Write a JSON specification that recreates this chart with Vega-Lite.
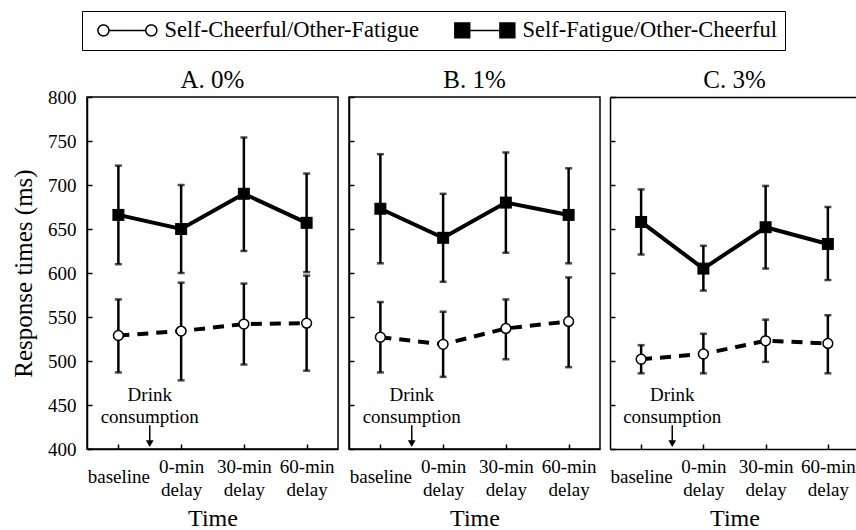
{
  "$schema": "https://vega.github.io/schema/vega-lite/v6.json",
  "padding": {"left": 10, "top": 10, "right": 0, "bottom": 0},
  "datasets": {
    "main": [
      {"panel": "A", "series": "Self-Fatigue/Other-Cheerful", "time": 0, "mean": 666, "lo": 610, "hi": 722},
      {"panel": "A", "series": "Self-Fatigue/Other-Cheerful", "time": 1, "mean": 650, "lo": 600, "hi": 700},
      {"panel": "A", "series": "Self-Fatigue/Other-Cheerful", "time": 2, "mean": 690, "lo": 625, "hi": 754},
      {"panel": "A", "series": "Self-Fatigue/Other-Cheerful", "time": 3, "mean": 657, "lo": 601, "hi": 713},
      {"panel": "A", "series": "Self-Cheerful/Other-Fatigue", "time": 0, "mean": 529, "lo": 487, "hi": 570},
      {"panel": "A", "series": "Self-Cheerful/Other-Fatigue", "time": 1, "mean": 534, "lo": 478, "hi": 589},
      {"panel": "A", "series": "Self-Cheerful/Other-Fatigue", "time": 2, "mean": 542, "lo": 496, "hi": 588},
      {"panel": "A", "series": "Self-Cheerful/Other-Fatigue", "time": 3, "mean": 543, "lo": 489, "hi": 597},
      {"panel": "B", "series": "Self-Fatigue/Other-Cheerful", "time": 0, "mean": 673, "lo": 611, "hi": 735},
      {"panel": "B", "series": "Self-Fatigue/Other-Cheerful", "time": 1, "mean": 640, "lo": 590, "hi": 690},
      {"panel": "B", "series": "Self-Fatigue/Other-Cheerful", "time": 2, "mean": 680, "lo": 623, "hi": 737},
      {"panel": "B", "series": "Self-Fatigue/Other-Cheerful", "time": 3, "mean": 666, "lo": 611, "hi": 719},
      {"panel": "B", "series": "Self-Cheerful/Other-Fatigue", "time": 0, "mean": 527, "lo": 487, "hi": 567},
      {"panel": "B", "series": "Self-Cheerful/Other-Fatigue", "time": 1, "mean": 519, "lo": 482, "hi": 556},
      {"panel": "B", "series": "Self-Cheerful/Other-Fatigue", "time": 2, "mean": 537, "lo": 502, "hi": 570},
      {"panel": "B", "series": "Self-Cheerful/Other-Fatigue", "time": 3, "mean": 545, "lo": 493, "hi": 595},
      {"panel": "C", "series": "Self-Fatigue/Other-Cheerful", "time": 0, "mean": 658, "lo": 621, "hi": 695},
      {"panel": "C", "series": "Self-Fatigue/Other-Cheerful", "time": 1, "mean": 605, "lo": 580, "hi": 631},
      {"panel": "C", "series": "Self-Fatigue/Other-Cheerful", "time": 2, "mean": 652, "lo": 605, "hi": 699},
      {"panel": "C", "series": "Self-Fatigue/Other-Cheerful", "time": 3, "mean": 633, "lo": 592, "hi": 675},
      {"panel": "C", "series": "Self-Cheerful/Other-Fatigue", "time": 0, "mean": 502, "lo": 486, "hi": 518},
      {"panel": "C", "series": "Self-Cheerful/Other-Fatigue", "time": 1, "mean": 508, "lo": 486, "hi": 531},
      {"panel": "C", "series": "Self-Cheerful/Other-Fatigue", "time": 2, "mean": 523, "lo": 499, "hi": 547},
      {"panel": "C", "series": "Self-Cheerful/Other-Fatigue", "time": 3, "mean": 520, "lo": 486, "hi": 552}
    ]
  },
  "data": {"name": "main"},
  "spacing": 8,
  "hconcat": [
    {
      "title": {"text": "A. 0%", "offset": -5},
      "width": 251,
      "height": 352,
      "transform": [{"filter": "datum.panel == 'A'"}],
      "layer": [
        {
          "transform": [{"filter": "datum.time == 0"}],
          "mark": {"type": "point", "size": 1, "filled": true, "stroke": "black", "strokeWidth": 1.5, "opacity": 1},
          "encoding": {
            "x": {"field": "time", "type": "quantitative", "scale": {"domain": [-0.5, 3.5], "nice": false, "zero": false}, "axis": {"title": "Time", "values": [0, 1, 2, 3], "labelExpr": "datum.value == 0 ? 'baseline' : datum.value == 1 ? ['0-min', 'delay'] : datum.value == 2 ? ['30-min', 'delay'] : ['60-min', 'delay']"}},
            "y": {"field": "mean", "type": "quantitative", "scale": {"domain": [400, 800], "nice": false, "zero": false}, "axis": {"title": "Response times (ms)", "values": [400, 450, 500, 550, 600, 650, 700, 750, 800], "titleFontSize": 25, "titlePadding": 11}},
            "shape": {"field": "series", "type": "nominal",
              "scale": {"domain": ["Self-Cheerful/Other-Fatigue", "Self-Fatigue/Other-Cheerful"],
                        "range": ["M-0.6,0A1,1,0,1,0,1.4,0A1,1,0,1,0,-0.6,0Z M1.4,0L8.1,0 M8.1,0A1,1,0,1,0,10.1,0A1,1,0,1,0,8.1,0Z",
                                  "M-0.8,-1.35H1.9V1.35H-0.8Z M1.9,0H7.4 M7.4,-1.35H10.1V1.35H7.4Z"]},
              "legend": {"title": null, "orient": "none", "legendX": -5, "legendY": -86, "direction": "horizontal", "symbolSize": 121, "symbolStrokeWidth": 1.5, "symbolStrokeColor": "black", "symbolOpacity": 1, "labelFont": "Liberation Serif", "labelFontSize": 22.5, "labelColor": "black", "labelOffset": 52, "columnPadding": 29, "strokeColor": "black", "padding": 8, "fillColor": "white", "labelLimit": 0,
                         "encoding": {"symbols": {"stroke": {"value": "black"}, "strokeWidth": {"value": 1.5}, "opacity": {"value": 1}, "strokeDash": {"value": [1, 0]}}}}},
            "fill": {"field": "series", "type": "nominal",
              "scale": {"domain": ["Self-Cheerful/Other-Fatigue", "Self-Fatigue/Other-Cheerful"], "range": ["white", "black"]},
              "legend": {"title": null, "orient": "none", "legendX": -5, "legendY": -86, "direction": "horizontal", "symbolSize": 121, "symbolStrokeWidth": 1.5, "symbolStrokeColor": "black", "symbolOpacity": 1, "labelFont": "Liberation Serif", "labelFontSize": 22.5, "labelColor": "black", "labelOffset": 52, "columnPadding": 29, "strokeColor": "black", "padding": 8, "fillColor": "white", "labelLimit": 0,
                         "encoding": {"symbols": {"stroke": {"value": "black"}, "strokeWidth": {"value": 1.5}, "opacity": {"value": 1}, "strokeDash": {"value": [1, 0]}}}}}
          }
        },
        {
          "mark": {"type": "errorbar", "ticks": true, "size": 7, "thickness": 2.5, "color": "black"},
          "encoding": {
            "x": {"field": "time", "type": "quantitative", "scale": {"domain": [-0.5, 3.5], "nice": false, "zero": false}, "axis": {"title": "Time", "values": [0, 1, 2, 3], "labelExpr": "datum.value == 0 ? 'baseline' : datum.value == 1 ? ['0-min', 'delay'] : datum.value == 2 ? ['30-min', 'delay'] : ['60-min', 'delay']"}},
            "y": {"field": "lo", "type": "quantitative", "scale": {"domain": [400, 800], "nice": false, "zero": false}, "axis": {"title": "Response times (ms)", "values": [400, 450, 500, 550, 600, 650, 700, 750, 800], "titleFontSize": 25, "titlePadding": 11}},
            "y2": {"field": "hi"}
          }
        },
        {
          "transform": [{"filter": "datum.series == 'Self-Cheerful/Other-Fatigue'"}],
          "mark": {"type": "line", "strokeWidth": 4, "color": "black", "strokeDash": [11, 8]},
          "encoding": {
            "x": {"field": "time", "type": "quantitative", "axis": {"title": "Time", "values": [0, 1, 2, 3], "labelExpr": "datum.value == 0 ? 'baseline' : datum.value == 1 ? ['0-min', 'delay'] : datum.value == 2 ? ['30-min', 'delay'] : ['60-min', 'delay']"}},
            "y": {"field": "mean", "type": "quantitative", "axis": {"title": "Response times (ms)", "values": [400, 450, 500, 550, 600, 650, 700, 750, 800], "titleFontSize": 25, "titlePadding": 11}}
          }
        },
        {
          "transform": [{"filter": "datum.series == 'Self-Fatigue/Other-Cheerful'"}],
          "mark": {"type": "line", "strokeWidth": 4, "color": "black"},
          "encoding": {
            "x": {"field": "time", "type": "quantitative", "axis": {"title": "Time", "values": [0, 1, 2, 3], "labelExpr": "datum.value == 0 ? 'baseline' : datum.value == 1 ? ['0-min', 'delay'] : datum.value == 2 ? ['30-min', 'delay'] : ['60-min', 'delay']"}},
            "y": {"field": "mean", "type": "quantitative", "axis": {"title": "Response times (ms)", "values": [400, 450, 500, 550, 600, 650, 700, 750, 800], "titleFontSize": 25, "titlePadding": 11}}
          }
        },
        {
          "transform": [{"filter": "datum.series == 'Self-Cheerful/Other-Fatigue'"}],
          "mark": {"type": "point", "shape": "circle", "filled": true, "fill": "white", "stroke": "black", "strokeWidth": 1.5, "size": 95, "opacity": 1},
          "encoding": {
            "x": {"field": "time", "type": "quantitative", "axis": {"title": "Time", "values": [0, 1, 2, 3], "labelExpr": "datum.value == 0 ? 'baseline' : datum.value == 1 ? ['0-min', 'delay'] : datum.value == 2 ? ['30-min', 'delay'] : ['60-min', 'delay']"}},
            "y": {"field": "mean", "type": "quantitative", "axis": {"title": "Response times (ms)", "values": [400, 450, 500, 550, 600, 650, 700, 750, 800], "titleFontSize": 25, "titlePadding": 11}}
          }
        },
        {
          "transform": [{"filter": "datum.series == 'Self-Fatigue/Other-Cheerful'"}],
          "mark": {"type": "point", "shape": "square", "filled": true, "fill": "black", "size": 144, "opacity": 1},
          "encoding": {
            "x": {"field": "time", "type": "quantitative", "axis": {"title": "Time", "values": [0, 1, 2, 3], "labelExpr": "datum.value == 0 ? 'baseline' : datum.value == 1 ? ['0-min', 'delay'] : datum.value == 2 ? ['30-min', 'delay'] : ['60-min', 'delay']"}},
            "y": {"field": "mean", "type": "quantitative", "axis": {"title": "Response times (ms)", "values": [400, 450, 500, 550, 600, 650, 700, 750, 800], "titleFontSize": 25, "titlePadding": 11}}
          }
        },
        {
          "data": {"values": [{}]},
          "mark": {"type": "text", "text": ["Drink", "consumption"], "font": "Liberation Serif", "fontSize": 19, "lineHeight": 22, "baseline": "middle", "align": "center", "color": "black"},
          "encoding": {
            "x": {"datum": 0.5, "type": "quantitative", "axis": {"title": "Time", "values": [0, 1, 2, 3], "labelExpr": "datum.value == 0 ? 'baseline' : datum.value == 1 ? ['0-min', 'delay'] : datum.value == 2 ? ['30-min', 'delay'] : ['60-min', 'delay']"}},
            "y": {"datum": 461, "type": "quantitative", "axis": {"title": "Response times (ms)", "values": [400, 450, 500, 550, 600, 650, 700, 750, 800], "titleFontSize": 25, "titlePadding": 11}}
          }
        },
        {
          "data": {"values": [{}]},
          "mark": {"type": "rule", "strokeWidth": 1.5, "color": "black"},
          "encoding": {
            "x": {"datum": 0.5, "type": "quantitative", "axis": {"title": "Time", "values": [0, 1, 2, 3], "labelExpr": "datum.value == 0 ? 'baseline' : datum.value == 1 ? ['0-min', 'delay'] : datum.value == 2 ? ['30-min', 'delay'] : ['60-min', 'delay']"}},
            "y": {"datum": 427, "type": "quantitative", "axis": {"title": "Response times (ms)", "values": [400, 450, 500, 550, 600, 650, 700, 750, 800], "titleFontSize": 25, "titlePadding": 11}},
            "y2": {"datum": 409}
          }
        },
        {
          "data": {"values": [{}]},
          "mark": {"type": "point", "shape": "triangle-down", "filled": true, "color": "black", "size": 60, "opacity": 1},
          "encoding": {
            "x": {"datum": 0.5, "type": "quantitative", "axis": {"title": "Time", "values": [0, 1, 2, 3], "labelExpr": "datum.value == 0 ? 'baseline' : datum.value == 1 ? ['0-min', 'delay'] : datum.value == 2 ? ['30-min', 'delay'] : ['60-min', 'delay']"}},
            "y": {"datum": 406, "type": "quantitative", "axis": {"title": "Response times (ms)", "values": [400, 450, 500, 550, 600, 650, 700, 750, 800], "titleFontSize": 25, "titlePadding": 11}}
          }
        }
      ]
    },
    {
      "title": {"text": "B. 1%", "offset": 3},
      "width": 251,
      "height": 352,
      "transform": [{"filter": "datum.panel == 'B'"}],
      "layer": [
        {
          "mark": {"type": "errorbar", "ticks": true, "size": 7, "thickness": 2.5, "color": "black"},
          "encoding": {
            "x": {"field": "time", "type": "quantitative", "scale": {"domain": [-0.5, 3.5], "nice": false, "zero": false}, "axis": {"title": "Time", "values": [0, 1, 2, 3], "labelExpr": "datum.value == 0 ? 'baseline' : datum.value == 1 ? ['0-min', 'delay'] : datum.value == 2 ? ['30-min', 'delay'] : ['60-min', 'delay']"}},
            "y": {"field": "lo", "type": "quantitative", "scale": {"domain": [400, 800], "nice": false, "zero": false}, "axis": {"title": null, "labels": false, "values": [400, 450, 500, 550, 600, 650, 700, 750, 800]}},
            "y2": {"field": "hi"}
          }
        },
        {
          "transform": [{"filter": "datum.series == 'Self-Cheerful/Other-Fatigue'"}],
          "mark": {"type": "line", "strokeWidth": 4, "color": "black", "strokeDash": [11, 8]},
          "encoding": {
            "x": {"field": "time", "type": "quantitative", "axis": {"title": "Time", "values": [0, 1, 2, 3], "labelExpr": "datum.value == 0 ? 'baseline' : datum.value == 1 ? ['0-min', 'delay'] : datum.value == 2 ? ['30-min', 'delay'] : ['60-min', 'delay']"}},
            "y": {"field": "mean", "type": "quantitative", "axis": {"title": null, "labels": false, "values": [400, 450, 500, 550, 600, 650, 700, 750, 800]}}
          }
        },
        {
          "transform": [{"filter": "datum.series == 'Self-Fatigue/Other-Cheerful'"}],
          "mark": {"type": "line", "strokeWidth": 4, "color": "black"},
          "encoding": {
            "x": {"field": "time", "type": "quantitative", "axis": {"title": "Time", "values": [0, 1, 2, 3], "labelExpr": "datum.value == 0 ? 'baseline' : datum.value == 1 ? ['0-min', 'delay'] : datum.value == 2 ? ['30-min', 'delay'] : ['60-min', 'delay']"}},
            "y": {"field": "mean", "type": "quantitative", "axis": {"title": null, "labels": false, "values": [400, 450, 500, 550, 600, 650, 700, 750, 800]}}
          }
        },
        {
          "transform": [{"filter": "datum.series == 'Self-Cheerful/Other-Fatigue'"}],
          "mark": {"type": "point", "shape": "circle", "filled": true, "fill": "white", "stroke": "black", "strokeWidth": 1.5, "size": 95, "opacity": 1},
          "encoding": {
            "x": {"field": "time", "type": "quantitative", "axis": {"title": "Time", "values": [0, 1, 2, 3], "labelExpr": "datum.value == 0 ? 'baseline' : datum.value == 1 ? ['0-min', 'delay'] : datum.value == 2 ? ['30-min', 'delay'] : ['60-min', 'delay']"}},
            "y": {"field": "mean", "type": "quantitative", "axis": {"title": null, "labels": false, "values": [400, 450, 500, 550, 600, 650, 700, 750, 800]}}
          }
        },
        {
          "transform": [{"filter": "datum.series == 'Self-Fatigue/Other-Cheerful'"}],
          "mark": {"type": "point", "shape": "square", "filled": true, "fill": "black", "size": 144, "opacity": 1},
          "encoding": {
            "x": {"field": "time", "type": "quantitative", "axis": {"title": "Time", "values": [0, 1, 2, 3], "labelExpr": "datum.value == 0 ? 'baseline' : datum.value == 1 ? ['0-min', 'delay'] : datum.value == 2 ? ['30-min', 'delay'] : ['60-min', 'delay']"}},
            "y": {"field": "mean", "type": "quantitative", "axis": {"title": null, "labels": false, "values": [400, 450, 500, 550, 600, 650, 700, 750, 800]}}
          }
        },
        {
          "data": {"values": [{}]},
          "mark": {"type": "text", "text": ["Drink", "consumption"], "font": "Liberation Serif", "fontSize": 19, "lineHeight": 22, "baseline": "middle", "align": "center", "color": "black"},
          "encoding": {
            "x": {"datum": 0.5, "type": "quantitative", "axis": {"title": "Time", "values": [0, 1, 2, 3], "labelExpr": "datum.value == 0 ? 'baseline' : datum.value == 1 ? ['0-min', 'delay'] : datum.value == 2 ? ['30-min', 'delay'] : ['60-min', 'delay']"}},
            "y": {"datum": 461, "type": "quantitative", "axis": {"title": null, "labels": false, "values": [400, 450, 500, 550, 600, 650, 700, 750, 800]}}
          }
        },
        {
          "data": {"values": [{}]},
          "mark": {"type": "rule", "strokeWidth": 1.5, "color": "black"},
          "encoding": {
            "x": {"datum": 0.5, "type": "quantitative", "axis": {"title": "Time", "values": [0, 1, 2, 3], "labelExpr": "datum.value == 0 ? 'baseline' : datum.value == 1 ? ['0-min', 'delay'] : datum.value == 2 ? ['30-min', 'delay'] : ['60-min', 'delay']"}},
            "y": {"datum": 427, "type": "quantitative", "axis": {"title": null, "labels": false, "values": [400, 450, 500, 550, 600, 650, 700, 750, 800]}},
            "y2": {"datum": 409}
          }
        },
        {
          "data": {"values": [{}]},
          "mark": {"type": "point", "shape": "triangle-down", "filled": true, "color": "black", "size": 60, "opacity": 1},
          "encoding": {
            "x": {"datum": 0.5, "type": "quantitative", "axis": {"title": "Time", "values": [0, 1, 2, 3], "labelExpr": "datum.value == 0 ? 'baseline' : datum.value == 1 ? ['0-min', 'delay'] : datum.value == 2 ? ['30-min', 'delay'] : ['60-min', 'delay']"}},
            "y": {"datum": 406, "type": "quantitative", "axis": {"title": null, "labels": false, "values": [400, 450, 500, 550, 600, 650, 700, 750, 800]}}
          }
        }
      ]
    },
    {
      "title": {"text": "C. 3%", "offset": 3},
      "width": 249,
      "height": 352,
      "view": {"stroke": null},
      "transform": [{"filter": "datum.panel == 'C'"}],
      "resolve": {"axis": {"x": "independent"}},
      "layer": [
        {
          "mark": {"type": "errorbar", "ticks": true, "size": 7, "thickness": 2.5, "color": "black"},
          "encoding": {
            "x": {"field": "time", "type": "quantitative", "scale": {"domain": [-0.5, 3.5], "nice": false, "zero": false}, "axis": {"title": "Time", "values": [0, 1, 2, 3], "labelExpr": "datum.value == 0 ? 'baseline' : datum.value == 1 ? ['0-min', 'delay'] : datum.value == 2 ? ['30-min', 'delay'] : ['60-min', 'delay']"}},
            "y": {"field": "lo", "type": "quantitative", "scale": {"domain": [400, 800], "nice": false, "zero": false}, "axis": {"title": null, "labels": false, "values": [400, 450, 500, 550, 600, 650, 700, 750, 800]}},
            "y2": {"field": "hi"}
          }
        },
        {
          "transform": [{"filter": "datum.series == 'Self-Cheerful/Other-Fatigue'"}],
          "mark": {"type": "line", "strokeWidth": 4, "color": "black", "strokeDash": [11, 8]},
          "encoding": {
            "x": {"field": "time", "type": "quantitative", "axis": {"orient": "top", "labels": false, "ticks": false, "title": null, "domain": true}},
            "y": {"field": "mean", "type": "quantitative", "axis": {"title": null, "labels": false, "values": [400, 450, 500, 550, 600, 650, 700, 750, 800]}}
          }
        },
        {
          "transform": [{"filter": "datum.series == 'Self-Fatigue/Other-Cheerful'"}],
          "mark": {"type": "line", "strokeWidth": 4, "color": "black"},
          "encoding": {
            "x": {"field": "time", "type": "quantitative", "axis": null},
            "y": {"field": "mean", "type": "quantitative", "axis": {"title": null, "labels": false, "values": [400, 450, 500, 550, 600, 650, 700, 750, 800]}}
          }
        },
        {
          "transform": [{"filter": "datum.series == 'Self-Cheerful/Other-Fatigue'"}],
          "mark": {"type": "point", "shape": "circle", "filled": true, "fill": "white", "stroke": "black", "strokeWidth": 1.5, "size": 95, "opacity": 1},
          "encoding": {"x": {"field": "time", "type": "quantitative", "axis": null}, "y": {"field": "mean", "type": "quantitative", "axis": {"title": null, "labels": false, "values": [400, 450, 500, 550, 600, 650, 700, 750, 800]}}}
        },
        {
          "transform": [{"filter": "datum.series == 'Self-Fatigue/Other-Cheerful'"}],
          "mark": {"type": "point", "shape": "square", "filled": true, "fill": "black", "size": 144, "opacity": 1},
          "encoding": {"x": {"field": "time", "type": "quantitative", "axis": null}, "y": {"field": "mean", "type": "quantitative", "axis": {"title": null, "labels": false, "values": [400, 450, 500, 550, 600, 650, 700, 750, 800]}}}
        },
        {
          "data": {"values": [{}]},
          "mark": {"type": "text", "text": ["Drink", "consumption"], "font": "Liberation Serif", "fontSize": 19, "lineHeight": 22, "baseline": "middle", "align": "center", "color": "black"},
          "encoding": {"x": {"datum": 0.5, "type": "quantitative", "axis": null}, "y": {"datum": 461, "type": "quantitative", "axis": {"title": null, "labels": false, "values": [400, 450, 500, 550, 600, 650, 700, 750, 800]}}}
        },
        {
          "data": {"values": [{}]},
          "mark": {"type": "rule", "strokeWidth": 1.5, "color": "black"},
          "encoding": {"x": {"datum": 0.5, "type": "quantitative", "axis": null}, "y": {"datum": 427, "type": "quantitative", "axis": {"title": null, "labels": false, "values": [400, 450, 500, 550, 600, 650, 700, 750, 800]}}, "y2": {"datum": 409}}
        },
        {
          "data": {"values": [{}]},
          "mark": {"type": "point", "shape": "triangle-down", "filled": true, "color": "black", "size": 60, "opacity": 1},
          "encoding": {"x": {"datum": 0.5, "type": "quantitative", "axis": null}, "y": {"datum": 406, "type": "quantitative", "axis": {"title": null, "labels": false, "values": [400, 450, 500, 550, 600, 650, 700, 750, 800]}}}
        }
      ]
    }
  ],
  "config": {
    "font": "Liberation Serif",
    "view": {"stroke": "black", "strokeWidth": 1.5},
    "title": {"font": "Liberation Serif", "fontSize": 25, "fontWeight": "normal", "color": "black", "baseline": "alphabetic", "anchor": "middle"},
    "axis": {"domainColor": "black", "domainWidth": 1.5, "tickColor": "black", "tickWidth": 1.5, "tickSize": -5, "labelColor": "black", "titleColor": "black", "labelFont": "Liberation Serif", "titleFont": "Liberation Serif", "labelFontSize": 19, "titleFontSize": 24, "titleFontWeight": "normal", "grid": false},
    "axisY": {"labelPadding": 16},
    "axisX": {"labelAngle": 0, "labelBaseline": "middle", "labelLineHeight": 23, "labelPadding": {"condition": {"test": "datum.value == 0", "value": 32}, "value": 22}, "labelOverlap": false, "labelFlush": false, "titlePadding": 7}
  }
}
